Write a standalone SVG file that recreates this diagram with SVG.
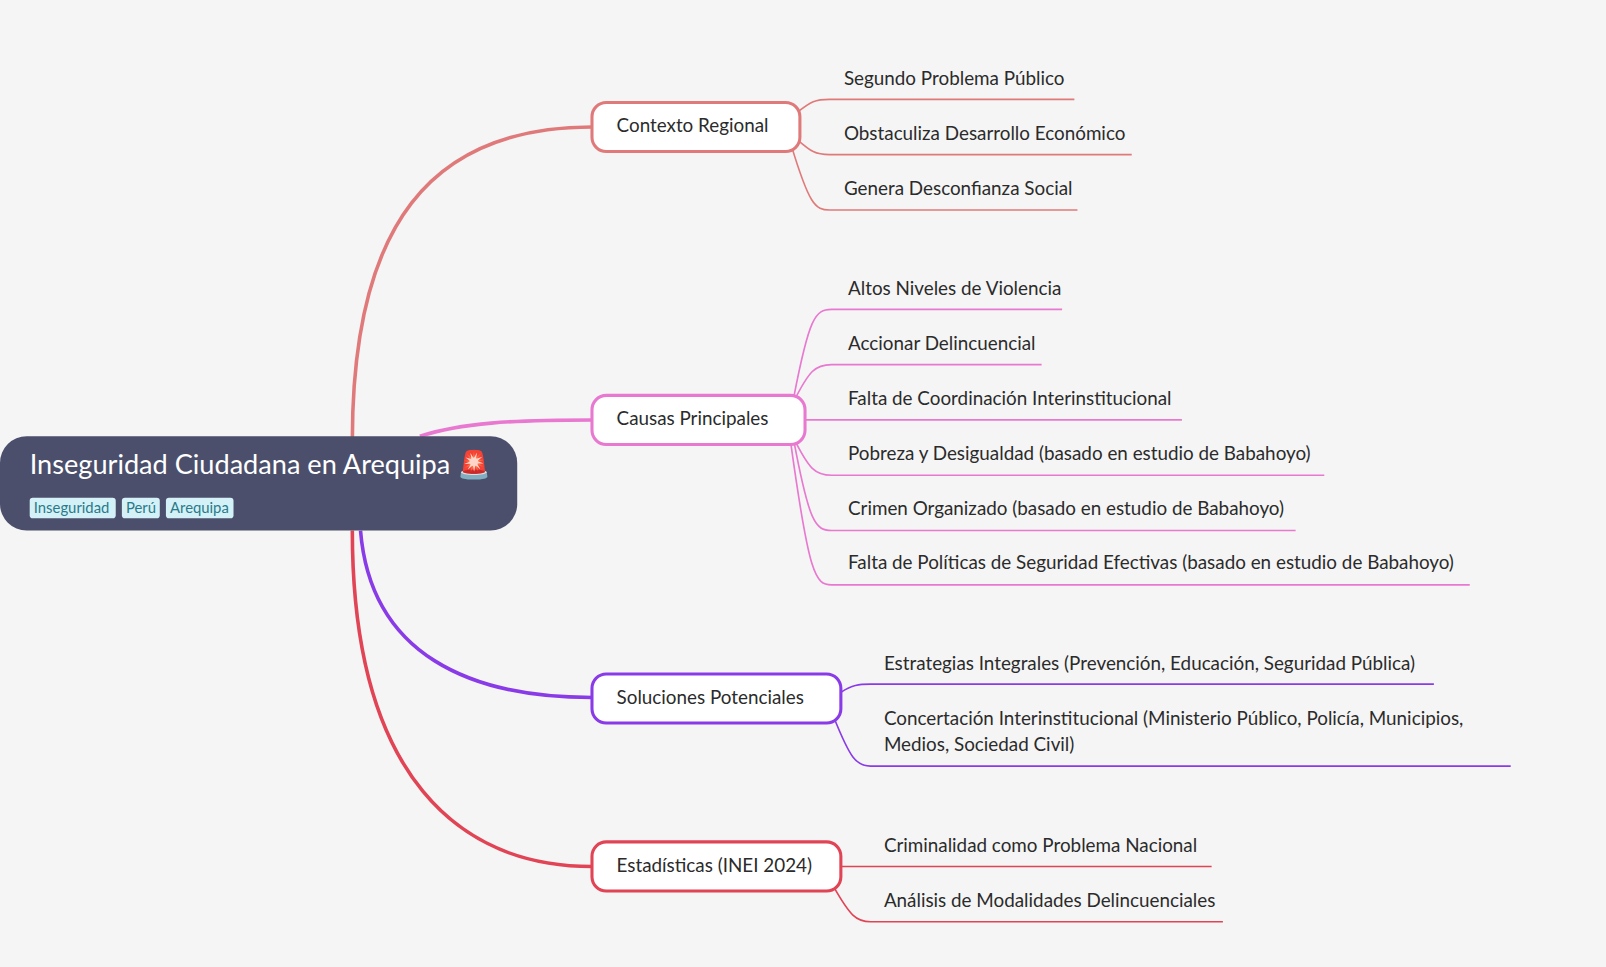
<svg xmlns="http://www.w3.org/2000/svg" width="1606" height="967" viewBox="0 0 1606 967">
<style>
.t{font-family:Lato,"Noto Sans",sans-serif;font-size:18.4px;fill:#2b2b2b}
.b{fill:#fff;stroke-width:3}
.c{fill:none;stroke-width:3.5}
.l{fill:none;stroke-width:1.6}
.tag{fill:#d4f1f7}
.tt{font-family:Lato,"Noto Sans",sans-serif;font-size:14.5px;fill:#2a7a8a}
</style>
<rect width="1606" height="967" fill="#f5f5f5"/>
<g transform="scale(1.0242)">
<g id="connectors">
<path class="c" stroke="#e07a7a" d="M344,430 C344,220 420,124 578,124"/>
<path class="c" stroke="#e878d0" d="M410,426 C450,413 500,410 578,410"/>
<path class="c" stroke="#8a3be8" d="M352,518 C362,640 460,681 578,681"/>
<path class="c" stroke="#e04455" d="M344,518 C344,760 450,846 578,846"/>
<g stroke="#e07a7a">
<path class="l" d="M778,110 C792,99 796,97 810,97 L1049,97"/>
<path class="l" d="M778,136 C792,148 796,151 810,151 L1105,151"/>
<path class="l" d="M772,140 C790,200 796,205 810,205 L1052,205"/>
</g>
<g stroke="#e878d0">
<path class="l" d="M775,388 C790,310 796,302 812,302 L1037,302"/>
<path class="l" d="M775,392 C790,362 796,356 812,356 L1017,356"/>
<path class="l" d="M786,410 L1154,410"/>
<path class="l" d="M775,428 C790,458 796,464 812,464 L1293,464"/>
<path class="l" d="M775,430 C790,510 796,518 812,518 L1265,518"/>
<path class="l" d="M772,432 C790,562 796,571 812,571 L1435,571"/>
</g>
<g stroke="#8a3be8">
<path class="l" d="M821,676 C832,669 838,668 850,668 L1400,668"/>
<path class="l" d="M814,700 C830,740 836,748 850,748 L1475,748"/>
</g>
<g stroke="#e04455">
<path class="l" d="M821,846 L1183,846"/>
<path class="l" d="M814,866 C830,894 836,900 850,900 L1194,900"/>
</g>
</g>
<g id="root">
<rect x="0" y="426" width="505" height="92" rx="26" fill="#4b4f6b"/>
<text x="29" y="463" font-family="Lato,'Noto Sans',sans-serif" font-size="26.5" fill="#fff">Inseguridad Ciudadana en Arequipa 🚨</text>
<rect class="tag" x="29" y="486" width="84" height="20" rx="3"/><text class="tt" x="33" y="501">Inseguridad</text>
<rect class="tag" x="119" y="486" width="37" height="20" rx="3"/><text class="tt" x="123" y="501">Perú</text>
<rect class="tag" x="162" y="486" width="66" height="20" rx="3"/><text class="tt" x="166" y="501">Arequipa</text>
</g>
<g id="n1"><rect class="b" stroke="#e07a7a" x="578" y="100" width="203" height="48" rx="14"/><text class="t" x="602" y="129">Contexto Regional</text></g>
<g id="n2"><rect class="b" stroke="#e878d0" x="578" y="386" width="208" height="48" rx="14"/><text class="t" x="602" y="415">Causas Principales</text></g>
<g id="n3"><rect class="b" stroke="#8a3be8" x="578" y="658" width="243" height="48" rx="14"/><text class="t" x="602" y="687">Soluciones Potenciales</text></g>
<g id="n4"><rect class="b" stroke="#e04455" x="578" y="822" width="243" height="48" rx="14"/><text class="t" x="602" y="851">Estadísticas (INEI 2024)</text></g>
<g id="leaves">
<text class="t" x="824" y="83">Segundo Problema Público</text>
<text class="t" x="824" y="137">Obstaculiza Desarrollo Económico</text>
<text class="t" x="824" y="190">Genera Desconfianza Social</text>
<text class="t" x="828" y="288">Altos Niveles de Violencia</text>
<text class="t" x="828" y="342">Accionar Delincuencial</text>
<text class="t" x="828" y="395">Falta de Coordinación Interinstitucional</text>
<text class="t" x="828" y="449">Pobreza y Desigualdad (basado en estudio de Babahoyo)</text>
<text class="t" x="828" y="503">Crimen Organizado (basado en estudio de Babahoyo)</text>
<text class="t" x="828" y="556">Falta de Políticas de Seguridad Efectivas (basado en estudio de Babahoyo)</text>
<text class="t" x="863" y="654">Estrategias Integrales (Prevención, Educación, Seguridad Pública)</text>
<text class="t" x="863" y="708">Concertación Interinstitucional (Ministerio Público, Policía, Municipios,</text>
<text class="t" x="863" y="733">Medios, Sociedad Civil)</text>
<text class="t" x="863" y="832">Criminalidad como Problema Nacional</text>
<text class="t" x="863" y="886">Análisis de Modalidades Delincuenciales</text>
</g>
</g>
</svg>
